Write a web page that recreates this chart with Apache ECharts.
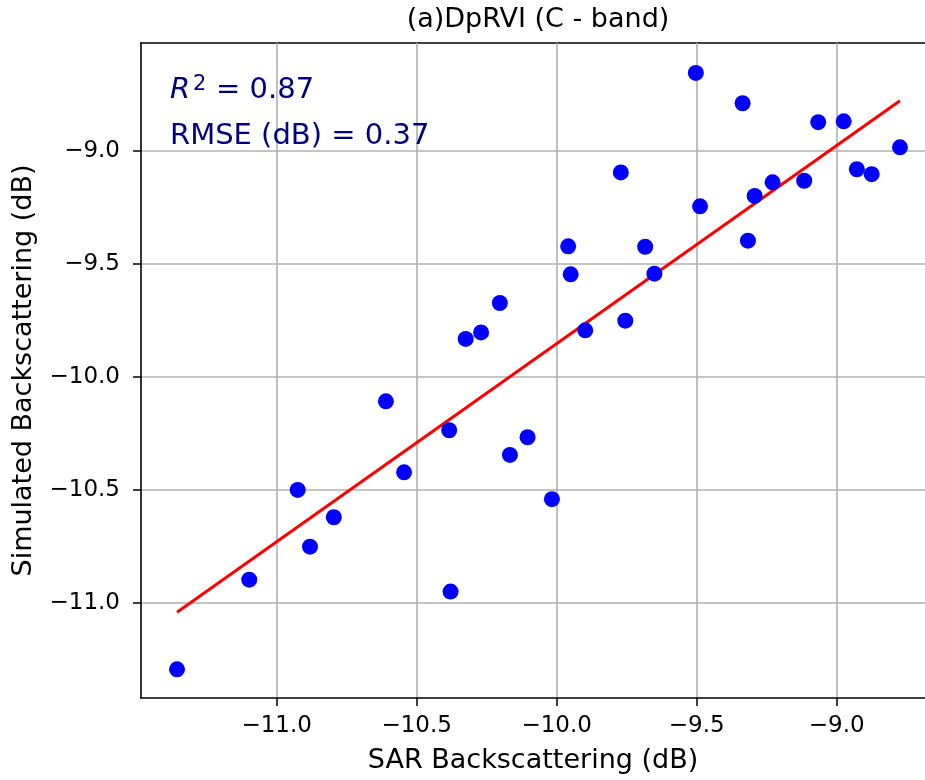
<!DOCTYPE html>
<html>
<head>
<meta charset="utf-8">
<script src="https://cdn.jsdelivr.net/npm/echarts@6/dist/echarts.min.js"></script>
<style>
  html, body { margin: 0; padding: 0; background: #fff; }
  #chart { width: 925px; height: 780px; }
</style>
</head>
<body>
<div id="chart"></div>
<script>
// ---- data ----
const sarValues = [
  -9.503, -9.336, -9.066, -8.975, -8.774, -9.771, -8.928, -8.875, -9.116, -9.229,
  -9.293, -9.488, -9.317, -9.959, -9.684, -9.950, -9.651, -10.203, -9.898, -9.755,
  -10.270, -10.325, -10.610, -10.384, -10.104, -10.167, -10.545, -10.925, -10.796, -10.017,
  -10.881, -11.098, -10.379, -11.356
];
const simValues = [
  -8.656, -8.790, -8.874, -8.870, -8.985, -9.096, -9.082, -9.104, -9.133, -9.140,
  -9.200, -9.246, -9.398, -9.423, -9.425, -9.547, -9.544, -9.674, -9.795, -9.752,
  -9.804, -9.833, -10.109, -10.237, -10.268, -10.346, -10.423, -10.501, -10.622, -10.542,
  -10.752, -10.898, -10.951, -11.295
];
const fitX = [-11.356, -8.774];
const fitY = [-11.042, -8.779];
const xTicks = [-11.0, -10.5, -10.0, -9.5, -9.0];
const yTicks = [-11.0, -10.5, -10.0, -9.5, -9.0];
const titleText = '(a)DpRVI (C - band)';
const xName = 'SAR Backscattering (dB)';
const yName = 'Simulated Backscattering (dB)';
const r2Value = '0.87';
const rmseValue = '0.37';

// ---- chart ----
const FONT = 'DejaVu Sans';
const fmt = v => (v < 0 ? '\u2212' : '') + Math.abs(v).toFixed(1);

const chart = echarts.init(document.getElementById('chart'), null, { renderer: 'canvas' });

const scatterData = sarValues.map((x, i) => [x, simValues[i]]);
const fitData = fitX.map((x, i) => [x, fitY[i]]);

const X_MIN = -11.4846, X_MAX = -8.6846;

const option = {
  backgroundColor: '#ffffff',
  animation: false,
  title: {
    text: titleText,
    left: 538,
    top: 6.5,
    textAlign: 'center',
    padding: 0,
    textStyle: { fontFamily: FONT, fontSize: 27, fontWeight: 'normal', color: '#000' }
  },
  grid: {
    left: 141, top: 43, right: 0, height: 655,
    show: false
  },
  xAxis: [{
    type: 'value',
    min: X_MIN, max: X_MAX,
    name: xName, nameLocation: 'middle', nameGap: 49,
    nameTextStyle: { fontFamily: FONT, fontSize: 27, color: '#000' },
    axisLine: { show: true, onZero: false, lineStyle: { color: '#000', width: 1.6 } },
    axisTick: { show: true, inside: false, length: 8, customValues: xTicks,
                lineStyle: { color: '#000', width: 1.5 } },
    axisLabel: { customValues: xTicks, formatter: fmt, margin: 16.5,
                 fontFamily: FONT, fontSize: 23, color: '#000' },
    splitLine: { show: true, lineStyle: { color: '#b0b0b0', width: 1.6 } },
    z: 1
  }, {
    type: 'value',
    position: 'top',
    min: X_MIN, max: X_MAX,
    axisLine: { show: true, onZero: false, lineStyle: { color: '#000', width: 1.6 } },
    axisTick: { show: false },
    axisLabel: { show: false },
    splitLine: { show: false }
  }],
  yAxis: {
    type: 'value',
    min: -11.4217, max: -8.5235,
    name: yName, nameLocation: 'middle', nameGap: 103.5, nameRotate: 90,
    nameTextStyle: { fontFamily: FONT, fontSize: 27, color: '#000' },
    axisLine: { show: true, onZero: false, lineStyle: { color: '#000', width: 1.6 } },
    axisTick: { show: true, inside: false, length: 8, customValues: yTicks,
                lineStyle: { color: '#000', width: 1.5 } },
    axisLabel: { customValues: yTicks, formatter: fmt, margin: 21,
                 fontFamily: FONT, fontSize: 23, color: '#000' },
    splitLine: { show: true, lineStyle: { color: '#b0b0b0', width: 1.6 } }
  },
  series: [
    {
      type: 'line',
      xAxisIndex: 0,
      data: fitData,
      showSymbol: false,
      symbol: 'none',
      lineStyle: { color: '#ff0000', width: 3 },
      z: 2,
      silent: true
    },
    {
      type: 'scatter',
      xAxisIndex: 0,
      data: scatterData,
      symbol: 'circle',
      symbolSize: 16,
      itemStyle: { color: '#0000ff', opacity: 1 },
      z: 3,
      silent: true
    }
  ],
  graphic: [
    { type: 'text', left: 170, top: 75.8, z: 10,
      style: { text: 'R', font: 'italic 29px "DejaVu Sans"', fill: '#000080' } },
    { type: 'text', left: 193, top: 74, z: 10,
      style: { text: '2', font: '21px "DejaVu Sans"', fill: '#000080' } },
    { type: 'text', left: 216, top: 75.8, z: 10,
      style: { text: '= ' + r2Value, font: '29px "DejaVu Sans"', fill: '#000080' } },
    { type: 'text', left: 170, top: 122.2, z: 10,
      style: { text: 'RMSE (dB) = ' + rmseValue, font: '29px "DejaVu Sans"', fill: '#000080' } }
  ]
};

chart.setOption(option);
</script>
</body>
</html>
